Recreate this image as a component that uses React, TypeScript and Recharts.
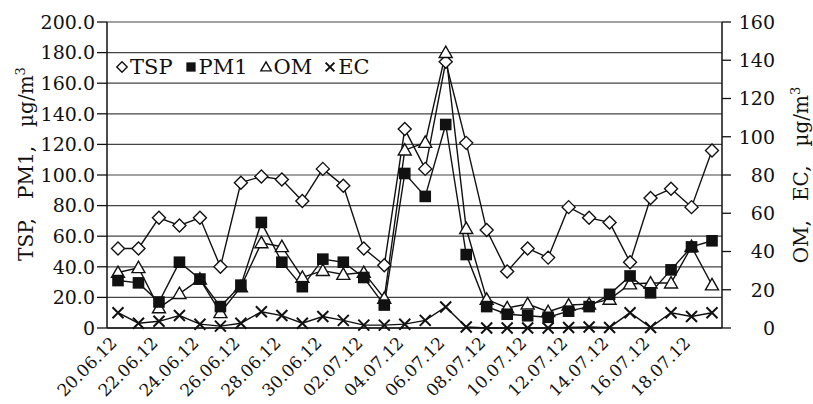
import { CartesianGrid, Legend, Line, LineChart, XAxis, YAxis } from "recharts";

const dates = [
  "20.06.12", "21.06.12", "22.06.12", "23.06.12", "24.06.12", "25.06.12", "26.06.12", "27.06.12",
  "28.06.12", "29.06.12", "30.06.12", "01.07.12", "02.07.12", "03.07.12", "04.07.12", "05.07.12",
  "06.07.12", "07.07.12", "08.07.12", "09.07.12", "10.07.12", "11.07.12", "12.07.12", "13.07.12",
  "14.07.12", "15.07.12", "16.07.12", "17.07.12", "18.07.12", "19.07.12",
];

// left axis, µg/m3
const tsp = [52, 52, 72, 67, 72, 40, 95, 99, 97, 83, 104, 93, 52, 41, 130, 104, 174, 121, 64, 37, 52, 46, 79, 72, 69, 43, 85, 91, 79, 116];
const pm1 = [31, 29.5, 17, 43, 32, 14, 28, 69, 43, 27, 45, 43, 33, 15, 101, 86, 133, 48, 14, 9, 8, 7, 11, 14, 22, 34, 23, 38, 53, 57];

// right axis, µg/m3
const om = [29, 31.5, 10.5, 18, 25.5, 8, 21.5, 44.5, 42.5, 26.5, 30, 28, 29, 15.5, 93, 97, 144, 52, 15, 10.5, 12.5, 8.5, 12, 12.5, 15, 23, 23.5, 23.5, 42.5, 22.5];
const ec = [8, 2.5, 3.5, 6.5, 2, 1, 2.5, 8.5, 6.5, 2.5, 6, 4, 1.5, 1.5, 2, 4, 11, 0.5, 0, 0, 0, 0, 0.3, 0.5, 0.3, 8, 0.3, 8, 6, 8];

const leftTicks = [0, 20, 40, 60, 80, 100, 120, 140, 160, 180, 200];
const rightTicks = [0, 20, 40, 60, 80, 100, 120, 140, 160];

const series = [
  { key: "tsp", name: "TSP" },
  { key: "pm1", name: "PM1" },
  { key: "om", name: "OM" },
  { key: "ec", name: "EC" },
];

const data = dates.map((date, i) => ({ date, tsp: tsp[i], pm1: pm1[i], om: om[i], ec: ec[i] }));

const FONT = "'DejaVu Serif', 'Liberation Serif', serif";
const INK = "#111";

function Marker({ kind, cx, cy, s = 1 }: { kind: string; cx: number; cy: number; s?: number }) {
  if (kind === "tsp") {
    const r = 6.5 * s;
    return <path d={`M${cx},${cy - r}L${cx + r},${cy}L${cx},${cy + r}L${cx - r},${cy}Z`} fill="#fff" stroke={INK} strokeWidth={1.4} />;
  }
  if (kind === "pm1") {
    const r = 5.8 * s;
    return <rect x={cx - r} y={cy - r} width={r * 2} height={r * 2} fill={INK} />;
  }
  if (kind === "om") {
    const r = 6.5 * s;
    return <path d={`M${cx},${cy - r}L${cx + r},${cy + r * 0.75}L${cx - r},${cy + r * 0.75}Z`} fill="#fff" stroke={INK} strokeWidth={1.4} />;
  }
  const r = 5.5 * s;
  return <path d={`M${cx - r},${cy - r}L${cx + r},${cy + r}M${cx + r},${cy - r}L${cx - r},${cy + r}`} stroke={INK} strokeWidth={2} fill="none" />;
}

const dotFor = (kind: string) => (p: any) =>
  p.cx == null ? <g key={`${kind}-${p.index}`} /> : <Marker key={`${kind}-${p.index}`} kind={kind} cx={p.cx} cy={p.cy} />;

function LegendContent() {
  return (
    <div style={{ display: "flex", alignItems: "center", fontFamily: FONT, fontSize: 21, color: INK, lineHeight: "24px" }}>
      {series.map((s) => (
        <span key={s.key} style={{ display: "inline-flex", alignItems: "center", marginRight: 11 }}>
          <svg width={14} height={14} style={{ marginRight: 1 }}>
            <Marker kind={s.key} cx={7} cy={7} s={0.8} />
          </svg>
          {s.name}
        </span>
      ))}
    </div>
  );
}

function DateTick({ x, y, payload }: any) {
  return (
    <g transform={`translate(${x},${y + 16})`}>
      <text textAnchor="end" transform="rotate(-45)" fontFamily={FONT} fontSize={17} fill={INK}>
        {payload.value}
      </text>
    </g>
  );
}

function RightTick({ x, y, payload }: any) {
  return (
    <text x={x + 36} y={y} dy="0.36em" textAnchor="end" fontFamily={FONT} fontSize={19} fill={INK}>
      {payload.value}
    </text>
  );
}

function LeftTitle({ viewBox }: any) {
  const x = viewBox.x + 33;
  const y = viewBox.y + viewBox.height / 2 - 11;
  return (
    <text x={x} y={y} transform={`rotate(-90, ${x}, ${y})`} textAnchor="middle" fontFamily={FONT} fontSize={20} fill={INK}>
      {"TSP,\u00a0\u00a0 PM1,\u00a0\u00a0 µg/m"}
      <tspan dy={-8} fontSize={13}>3</tspan>
    </text>
  );
}

function RightTitle({ viewBox }: any) {
  const x = viewBox.x + 86;
  const y = viewBox.y + viewBox.height / 2;
  return (
    <text x={x} y={y} transform={`rotate(-90, ${x}, ${y})`} textAnchor="middle" fontFamily={FONT} fontSize={20} fill={INK}>
      {"OM,\u00a0\u00a0 EC,\u00a0\u00a0 µg/m"}
      <tspan dy={-8} fontSize={13}>3</tspan>
    </text>
  );
}

export default function App() {
  return (
    <div style={{ position: "absolute", left: 0, top: 0, background: "#fff" }}>
      <LineChart width={813} height={404} data={data} margin={{ top: 22, right: 0, bottom: 0, left: 0 }}>
        <CartesianGrid yAxisId="left" vertical={false} stroke="#444" strokeWidth={1.2} />
        <XAxis
          dataKey="date"
          interval={1}
          height={76}
          padding={{ left: 11, right: 10 }}
          tickLine={false}
          tickSize={0}
          tickMargin={0}
          axisLine={{ stroke: INK, strokeWidth: 1.5 }}
          tick={<DateTick />}
        />
        <YAxis
          yAxisId="left"
          width={107}
          domain={[0, 200]}
          ticks={leftTicks}
          tickSize={10}
          tickMargin={2}
          tickFormatter={(v: number) => (v === 0 ? "0" : v.toFixed(1))}
          tick={{ fontFamily: FONT, fontSize: 19, fill: INK }}
          tickLine={{ stroke: INK, strokeWidth: 1.3 }}
          axisLine={{ stroke: INK, strokeWidth: 1.5 }}
          label={{ content: (p: any) => <LeftTitle viewBox={p.viewBox} /> }}
        />
        <YAxis
          yAxisId="right"
          orientation="right"
          width={91}
          domain={[0, 160]}
          ticks={rightTicks}
          tickSize={9}
          tickMargin={8}
          tick={<RightTick />}
          tickLine={{ stroke: INK, strokeWidth: 1.3 }}
          axisLine={{ stroke: INK, strokeWidth: 1.5 }}
          label={{ content: (p: any) => <RightTitle viewBox={p.viewBox} /> }}
        />
        <Legend
          layout="horizontal"
          verticalAlign="middle"
          align="center"
          wrapperStyle={{ top: 55, left: 115, width: "auto" }}
          content={<LegendContent />}
        />
        <Line yAxisId="left" dataKey="tsp" name="TSP" stroke={INK} strokeWidth={1.4} dot={dotFor("tsp")} isAnimationActive={false} />
        <Line yAxisId="right" dataKey="om" name="OM" stroke={INK} strokeWidth={1.4} dot={dotFor("om")} isAnimationActive={false} />
        <Line yAxisId="left" dataKey="pm1" name="PM1" stroke={INK} strokeWidth={1.4} dot={dotFor("pm1")} isAnimationActive={false} />
        <Line yAxisId="right" dataKey="ec" name="EC" stroke={INK} strokeWidth={1.4} dot={dotFor("ec")} isAnimationActive={false} />
      </LineChart>
    </div>
  );
}
